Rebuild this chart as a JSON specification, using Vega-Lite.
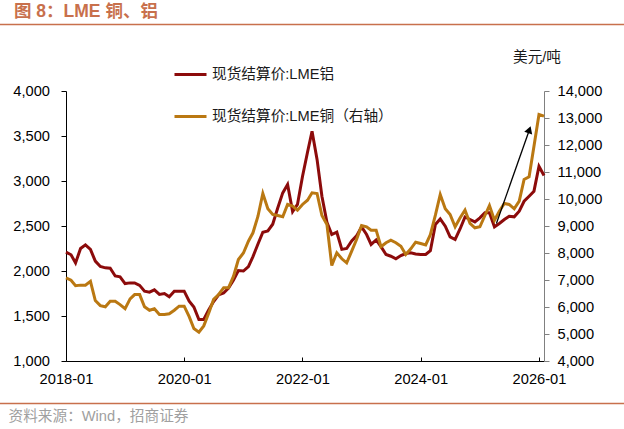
{
  "$schema": "https://vega.github.io/schema/vega-lite/v6.json",
  "width": 478,
  "height": 270,
  "autosize": {"type": "none"},
  "padding": {"left": 66, "top": 91, "right": 80, "bottom": 68},
  "background": "white",
  "config": {
    "view": {"stroke": null},
    "font": "Liberation Sans, Noto Sans CJK SC",
    "axis": {"grid": false, "labelFont": "Liberation Sans, Noto Sans CJK SC", "labelFontSize": 14.67, "labelColor": "#000000", "domainWidth": 1, "tickWidth": 1}
  },
  "title": {
    "text": "图 8：LME 铜、铝",
    "anchor": "start",
    "frame": "group",
    "dx": -52,
    "offset": 3,
    "fontSize": 17.5,
    "fontWeight": "bold",
    "color": "#C8704C",
    "font": "Liberation Sans, Noto Sans CJK SC"
  },
  "datasets": {
    "prices": [
      {"d": "2018-01", "al": 2210, "cu": 7080},
      {"d": "2018-02", "al": 2180, "cu": 6990},
      {"d": "2018-03", "al": 2090, "cu": 6790},
      {"d": "2018-04", "al": 2250, "cu": 6810},
      {"d": "2018-05", "al": 2290, "cu": 6810},
      {"d": "2018-06", "al": 2240, "cu": 6950},
      {"d": "2018-07", "al": 2110, "cu": 6240},
      {"d": "2018-08", "al": 2050, "cu": 6050},
      {"d": "2018-09", "al": 2035, "cu": 6010},
      {"d": "2018-10", "al": 2030, "cu": 6215},
      {"d": "2018-11", "al": 1945, "cu": 6215},
      {"d": "2018-12", "al": 1935, "cu": 6090},
      {"d": "2019-01", "al": 1860, "cu": 5935},
      {"d": "2019-02", "al": 1868, "cu": 6300},
      {"d": "2019-03", "al": 1868, "cu": 6460},
      {"d": "2019-04", "al": 1840, "cu": 6460},
      {"d": "2019-05", "al": 1776, "cu": 6010},
      {"d": "2019-06", "al": 1765, "cu": 5880},
      {"d": "2019-07", "al": 1790, "cu": 5935},
      {"d": "2019-08", "al": 1740, "cu": 5720},
      {"d": "2019-09", "al": 1750, "cu": 5720},
      {"d": "2019-10", "al": 1713, "cu": 5750},
      {"d": "2019-11", "al": 1775, "cu": 5880},
      {"d": "2019-12", "al": 1776, "cu": 6030},
      {"d": "2020-01", "al": 1776, "cu": 6030},
      {"d": "2020-02", "al": 1665, "cu": 5640},
      {"d": "2020-03", "al": 1600, "cu": 5200},
      {"d": "2020-04", "al": 1461, "cu": 5070},
      {"d": "2020-05", "al": 1461, "cu": 5300},
      {"d": "2020-06", "al": 1570, "cu": 5780},
      {"d": "2020-07", "al": 1660, "cu": 6280},
      {"d": "2020-08", "al": 1735, "cu": 6463},
      {"d": "2020-09", "al": 1755, "cu": 6711},
      {"d": "2020-10", "al": 1810, "cu": 6711},
      {"d": "2020-11", "al": 1900, "cu": 7141},
      {"d": "2020-12", "al": 2005, "cu": 7760},
      {"d": "2021-01", "al": 2000, "cu": 8000},
      {"d": "2021-02", "al": 2050, "cu": 8437},
      {"d": "2021-03", "al": 2160, "cu": 8748},
      {"d": "2021-04", "al": 2300, "cu": 9363},
      {"d": "2021-05", "al": 2431, "cu": 10204},
      {"d": "2021-06", "al": 2445, "cu": 9637},
      {"d": "2021-07", "al": 2520, "cu": 9426},
      {"d": "2021-08", "al": 2700, "cu": 9389},
      {"d": "2021-09", "al": 2868, "cu": 9341},
      {"d": "2021-10", "al": 2961, "cu": 9797},
      {"d": "2021-11", "al": 2660, "cu": 9734},
      {"d": "2021-12", "al": 2740, "cu": 9586},
      {"d": "2022-01", "al": 3050, "cu": 9797},
      {"d": "2022-02", "al": 3320, "cu": 9956},
      {"d": "2022-03", "al": 3553, "cu": 10230},
      {"d": "2022-04", "al": 3240, "cu": 10204},
      {"d": "2022-05", "al": 2830, "cu": 9389},
      {"d": "2022-06", "al": 2540, "cu": 9056},
      {"d": "2022-07", "al": 2405, "cu": 7537},
      {"d": "2022-08", "al": 2431, "cu": 8008},
      {"d": "2022-09", "al": 2240, "cu": 7785},
      {"d": "2022-10", "al": 2250, "cu": 7637},
      {"d": "2022-11", "al": 2335, "cu": 8067},
      {"d": "2022-12", "al": 2390, "cu": 8500},
      {"d": "2023-01", "al": 2490, "cu": 9019},
      {"d": "2023-02", "al": 2405, "cu": 8971},
      {"d": "2023-03", "al": 2295, "cu": 8845},
      {"d": "2023-04", "al": 2345, "cu": 8845},
      {"d": "2023-05", "al": 2270, "cu": 8230},
      {"d": "2023-06", "al": 2183, "cu": 8378},
      {"d": "2023-07", "al": 2164, "cu": 8475},
      {"d": "2023-08", "al": 2135, "cu": 8378},
      {"d": "2023-09", "al": 2172, "cu": 8252},
      {"d": "2023-10", "al": 2194, "cu": 7945},
      {"d": "2023-11", "al": 2202, "cu": 8156},
      {"d": "2023-12", "al": 2190, "cu": 8400},
      {"d": "2024-01", "al": 2183, "cu": 8352},
      {"d": "2024-02", "al": 2183, "cu": 8300},
      {"d": "2024-03", "al": 2225, "cu": 8680},
      {"d": "2024-04", "al": 2517, "cu": 9400},
      {"d": "2024-05", "al": 2578, "cu": 10167},
      {"d": "2024-06", "al": 2498, "cu": 9640},
      {"d": "2024-07", "al": 2380, "cu": 9426},
      {"d": "2024-08", "al": 2350, "cu": 8971},
      {"d": "2024-09", "al": 2470, "cu": 9304},
      {"d": "2024-10", "al": 2600, "cu": 9586},
      {"d": "2024-11", "al": 2572, "cu": 9093},
      {"d": "2024-12", "al": 2545, "cu": 8934},
      {"d": "2025-01", "al": 2590, "cu": 8971},
      {"d": "2025-02", "al": 2647, "cu": 9389},
      {"d": "2025-03", "al": 2647, "cu": 9760},
      {"d": "2025-04", "al": 2491, "cu": 9215},
      {"d": "2025-05", "al": 2528, "cu": 9549},
      {"d": "2025-06", "al": 2572, "cu": 9834},
      {"d": "2025-07", "al": 2609, "cu": 9797},
      {"d": "2025-08", "al": 2602, "cu": 9637},
      {"d": "2025-09", "al": 2665, "cu": 9919},
      {"d": "2025-10", "al": 2775, "cu": 10723},
      {"d": "2025-11", "al": 2831, "cu": 10822},
      {"d": "2025-12", "al": 2887, "cu": 11956},
      {"d": "2026-01", "al": 3164, "cu": 13130},
      {"d": "2026-02", "al": 3061, "cu": 13067}
    ],
    "arrow": [
      {"d": "2025-04-13", "cu": 9093, "d2": "2025-11-03", "cu2": 12567}
    ],
    "arrowhead": [
      {"d": "2025-11-03", "cu": 12567}
    ]
  },
  "encoding": {
    "x": {
      "field": "d",
      "type": "temporal",
      "scale": {"domain": [{"year": 2018, "month": 1, "date": 1}, {"year": 2026, "month": 2, "date": 1}]},
      "axis": {
        "orient": "bottom",
        "values": [{"year": 2018, "month": 1, "date": 1}, {"year": 2020, "month": 1, "date": 1}, {"year": 2022, "month": 1, "date": 1}, {"year": 2024, "month": 1, "date": 1}, {"year": 2026, "month": 1, "date": 1}],
        "format": "%Y-%m",
        "tickSize": -4,
        "labelPadding": 14,
        "labelFlush": false,
        "domainColor": "#000000",
        "tickColor": "#000000",
        "title": "资料来源：Wind，招商证券",
        "titleX": -58,
        "titleY": 55,
        "titleAlign": "left",
        "titleBaseline": "middle",
        "titleColor": "#A0A0A0",
        "titleFontWeight": "normal",
        "titleFontSize": 14.67,
        "titleFont": "Liberation Sans, Noto Sans CJK SC"
      }
    }
  },
  "layer": [
    {
      "data": {"values": [{}]},
      "mark": {"type": "rule", "color": "#C8704C", "strokeWidth": 1.5},
      "encoding": {"x": {"value": -66}, "x2": {"value": 558}, "y": {"value": -66.5}}
    },
    {
      "data": {"values": [{}]},
      "mark": {"type": "rule", "color": "#C8704C", "strokeWidth": 1.5},
      "encoding": {"x": {"value": -66}, "x2": {"value": 558}, "y": {"value": 312.5}}
    },
    {
      "data": {"name": "prices"},
      "mark": {"type": "line", "strokeWidth": 3},
      "encoding": {
        "y": {
          "field": "al",
          "type": "quantitative",
          "scale": {"domain": [1000, 4000], "nice": false, "zero": false},
          "axis": {"orient": "left", "values": [1000, 1500, 2000, 2500, 3000, 3500, 4000], "format": ",.0f", "tickSize": 5, "labelPadding": 11.5, "domainColor": "#000000", "tickColor": "#000000", "title": null}
        },
        "color": {
          "datum": "现货结算价:LME铝",
          "type": "nominal",
          "scale": {"domain": ["现货结算价:LME铝", "现货结算价:LME铜（右轴）"], "range": ["#8C0B0B", "#BA7812"]},
          "legend": {
            "orient": "none",
            "legendX": 107,
            "legendY": -34,
            "direction": "vertical",
            "symbolType": "stroke",
            "symbolSize": 1024,
            "symbolStrokeWidth": 3,
            "labelFontSize": 14.67,
            "labelFont": "Liberation Sans, Noto Sans CJK SC",
            "labelColor": "#1a1a1a",
            "rowPadding": 17,
            "labelOffset": 4,
            "padding": 0,
            "labelLimit": 300,
            "title": null
          }
        }
      }
    },
    {
      "encoding": {
        "y": {
          "field": "cu",
          "type": "quantitative",
          "scale": {"domain": [4000, 14000], "nice": false, "zero": false},
          "axis": {
            "orient": "right",
            "values": [4000, 5000, 6000, 7000, 8000, 9000, 10000, 11000, 12000, 13000, 14000],
            "format": ",.0f",
            "tickSize": 5,
            "labelPadding": 8,
            "domainColor": "#808080",
            "tickColor": "#808080",
            "title": "美元/吨",
            "titleAngle": 0,
            "titleX": -7.5,
            "titleY": -34,
            "titleAlign": "center",
            "titleBaseline": "middle",
            "titleFontSize": 14.67,
            "titleFontWeight": "normal",
            "titleColor": "#1a1a1a",
            "titleFont": "Liberation Sans, Noto Sans CJK SC"
          }
        }
      },
      "layer": [
        {
          "data": {"name": "prices"},
          "mark": {"type": "line", "strokeWidth": 3},
          "encoding": {
            "color": {
              "datum": "现货结算价:LME铜（右轴）",
              "type": "nominal",
              "scale": {"domain": ["现货结算价:LME铝", "现货结算价:LME铜（右轴）"], "range": ["#8C0B0B", "#BA7812"]}
            }
          }
        },
        {
          "data": {"name": "arrow"},
          "mark": {"type": "rule", "color": "#000000", "strokeWidth": 1.3},
          "encoding": {"x2": {"field": "d2"}, "y2": {"field": "cu2"}}
        },
        {
          "data": {"name": "arrowhead"},
          "mark": {"type": "point", "shape": "triangle-up", "filled": true, "color": "#000000", "opacity": 1, "size": 70, "angle": 19.5, "strokeWidth": 0}
        }
      ]
    }
  ],
  "resolve": {"scale": {"y": "independent"}}
}
